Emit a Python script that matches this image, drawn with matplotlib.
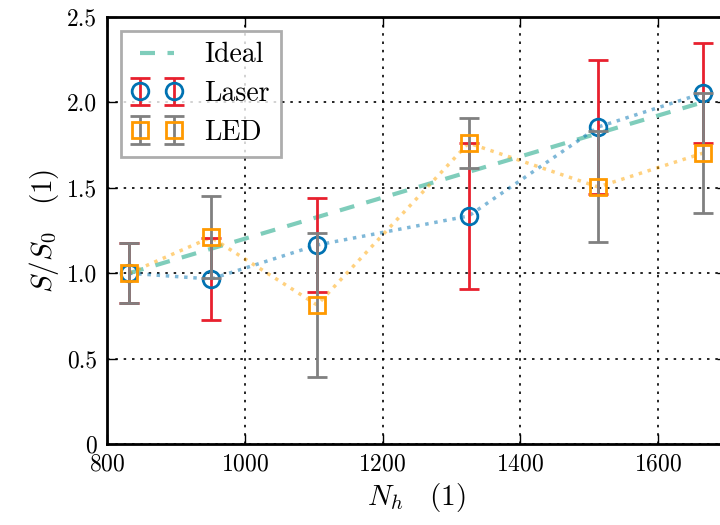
import numpy as np
import matplotlib
matplotlib.use("Agg")
import matplotlib.pyplot as plt

plt.rcParams['font.family'] = 'serif'
plt.rcParams['font.serif'] = ['cmr10']
plt.rcParams['mathtext.fontset'] = 'cm'
plt.rcParams['axes.unicode_minus'] = False
plt.rcParams['axes.formatter.use_mathtext'] = True

# data
n_h = [832, 951, 1105, 1325, 1513, 1666]
ideal = [1.0, 1.143, 1.328, 1.593, 1.819, 2.002]
laser = [1.0, 0.966, 1.165, 1.335, 1.856, 2.055]
laser_err = [0.175, 0.24, 0.275, 0.428, 0.39, 0.29]
led = [1.0, 1.21, 0.814, 1.762, 1.505, 1.704]
led_err = [0.175, 0.24, 0.42, 0.146, 0.325, 0.35]

fig = plt.figure(figsize=(7.2, 5.25), dpi=100)
ax = fig.add_axes([0.1486, 0.1543, 0.861, 0.8133])

ax.plot(n_h, ideal, '--', color='#7fcdbb', lw=3, dashes=(3.6, 3), label='Ideal', zorder=2)
ax.plot(n_h, laser, ':', color='#0072b2', alpha=0.5, lw=2.5, zorder=2)
ax.plot(n_h, led, ':', color='#ffa500', alpha=0.5, lw=2.5, zorder=2)

ax.errorbar(n_h, laser, yerr=laser_err, fmt='o', ms=12, mfc='none', mec='#0072b2', mew=2,
            ecolor='#e8202e', elinewidth=2, capsize=7, capthick=2, label='Laser', zorder=3)
ax.errorbar(n_h, led, yerr=led_err, fmt='s', ms=12, mfc='none', mec='#ff9900', mew=2,
            ecolor='#808080', elinewidth=2, capsize=7, capthick=2, label='LED', zorder=4)

ax.set_xlim(800, 1700)
ax.set_ylim(0, 2.5)
ax.set_xticks([800, 1000, 1200, 1400, 1600])
ax.set_yticks([0, 0.5, 1.0, 1.5, 2.0, 2.5])
ax.set_yticklabels(['0', '0.5', '1.0', '1.5', '2.0', '2.5'])
ax.grid(True, linestyle=(0, (1.5, 3.5)), color='black', lw=1.2)
ax.tick_params(direction='in', top=True, right=True, length=7, width=1, labelsize=17, pad=7)
for s in ax.spines.values():
    s.set_linewidth(2)

ax.set_xlabel(r'$N_h \quad (1)$', fontsize=21)
ax.set_ylabel(r'$S/S_0 \quad (1)$', fontsize=21)

leg = ax.legend(loc='upper left', numpoints=2, fontsize=20, fancybox=False,
                borderaxespad=0.5, handlelength=1.8, handletextpad=0.8,
                labelspacing=0.45, borderpad=0.4)
leg.get_frame().set_edgecolor('#999999')
leg.get_frame().set_linewidth(2)

fig.savefig('out.png', dpi=100)
